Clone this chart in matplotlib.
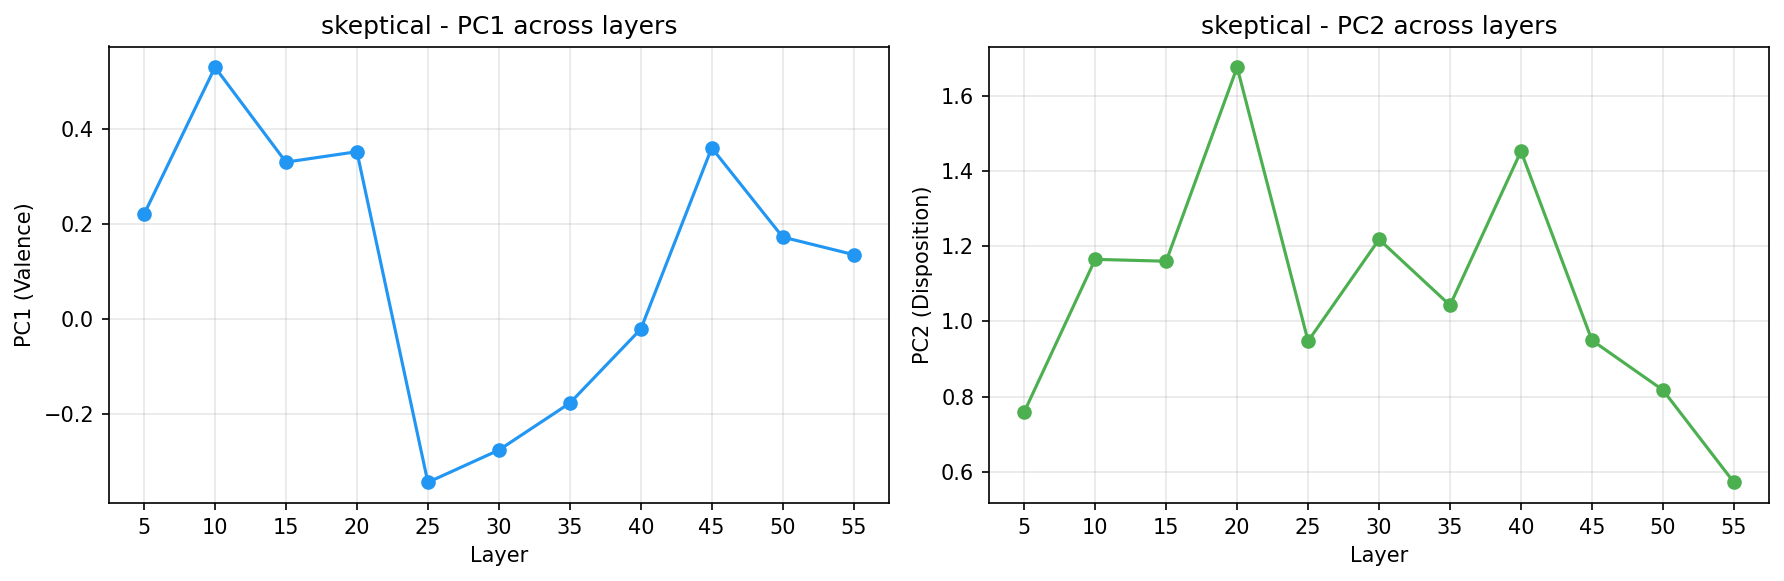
import matplotlib
matplotlib.use('Agg')
import matplotlib.pyplot as plt

layers = [5, 10, 15, 20, 25, 30, 35, 40, 45, 50, 55]
pc1 = [0.22, 0.53, 0.33, 0.352, -0.345, -0.277, -0.178, -0.022, 0.36, 0.172, 0.135]
pc2 = [0.76, 1.165, 1.16, 1.675, 0.948, 1.218, 1.043, 1.452, 0.95, 0.818, 0.573]

fig, (ax1, ax2) = plt.subplots(1, 2, figsize=(12, 4))

ax1.plot(layers, pc1, marker='o', color='#2196F3', linewidth=1.5, markersize=6)
ax1.set_title('skeptical - PC1 across layers')
ax1.set_xlabel('Layer')
ax1.set_ylabel('PC1 (Valence)')
ax1.set_xticks(layers)
ax1.grid(True, alpha=0.3)

ax2.plot(layers, pc2, marker='o', color='#4CAF50', linewidth=1.5, markersize=6)
ax2.set_title('skeptical - PC2 across layers')
ax2.set_xlabel('Layer')
ax2.set_ylabel('PC2 (Disposition)')
ax2.set_xticks(layers)
ax2.grid(True, alpha=0.3)

plt.tight_layout()
plt.savefig('out.png', dpi=150, bbox_inches='tight')
plt.close()
